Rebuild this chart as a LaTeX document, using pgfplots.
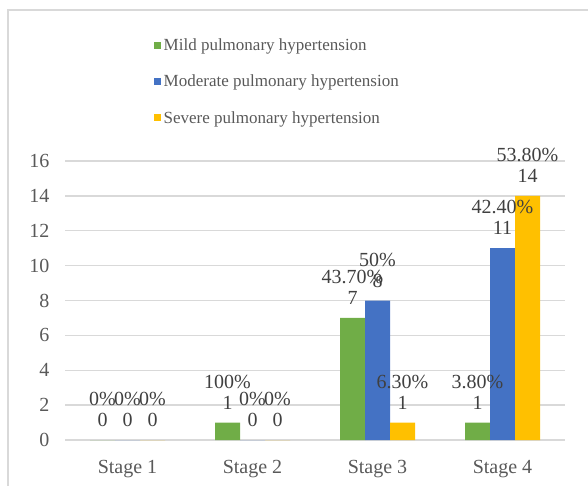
\documentclass[border=0pt]{standalone}
\usepackage{pgfplots}
\pgfplotsset{compat=1.18}
\usepackage{fontspec}
\setmainfont{Liberation Serif}
\definecolor{cgreen}{HTML}{70AD47}
\definecolor{cblue}{HTML}{4472C4}
\definecolor{cyellow}{HTML}{FFC000}
\definecolor{cgrid}{HTML}{D9D9D9}
\definecolor{ctext}{HTML}{595959}
\definecolor{clab}{HTML}{404040}
\begin{document}
\begin{tikzpicture}
\path[use as bounding box] (0pt,0pt) rectangle (588pt,-486pt);
\draw[cgrid, line width=1.5pt] (8pt,-490pt) -- (8pt,-10pt) -- (592pt,-10pt);
\begin{axis}[
  at={(65pt,-440pt)}, anchor=south west,
  scale only axis, width=500pt, height=279pt,
  xmin=-0.5, xmax=3.5, ymin=0, ymax=16,
  ytick={0,2,...,16},
  xtick={0,1,2,3},
  xticklabels={Stage 1,Stage 2,Stage 3,Stage 4},
  axis line style={draw=none},
  tick style={draw=none},
  ymajorgrids=true,
  major grid style={color=cgrid, line width=1.3pt},
  ticklabel style={font=\fontsize{20}{21}\selectfont, text=ctext},
  /pgf/number format/assume math mode=true,
  yticklabel style={xshift=-12pt},
  xticklabel style={yshift=-12pt},
  ybar=0pt, bar width=25pt,
  clip=false,
  point meta=explicit symbolic,
  visualization depends on=rawy \as \rawy,
  nodes near coords={\pgfplotspointmeta\%\\\pgfmathprintnumber{\rawy}},
  nodes near coords style={font=\fontsize{20}{21}\selectfont, text=clab, align=center, anchor=south, inner sep=1pt, yshift=12pt},
  legend image code/.code={\fill[#1] (0pt,-3.5pt) rectangle (7pt,3.5pt);},
  legend style={draw=none, fill=none, at={(0.172,1.455)}, anchor=north west,
    font=\fontsize{17}{20}\selectfont, text=ctext, row sep=18pt,
    nodes={inner sep=2.5pt}},
  legend cell align=left,
]
\addplot[fill=cgreen, draw=none] coordinates {(0,0) [0] (1,1) [100] (2,7) [43.70] (3,1) [3.80]};
\addplot[fill=cblue, draw=none] coordinates {(0,0) [0] (1,0) [0] (2,8) [50] (3,11) [42.40]};
\addplot[fill=cyellow, draw=none] coordinates {(0,0) [0] (1,0) [0] (2,1) [6.30] (3,14) [53.80]};
\legend{Mild pulmonary hypertension, Moderate pulmonary hypertension, Severe pulmonary hypertension}
\end{axis}
\end{tikzpicture}
\end{document}
